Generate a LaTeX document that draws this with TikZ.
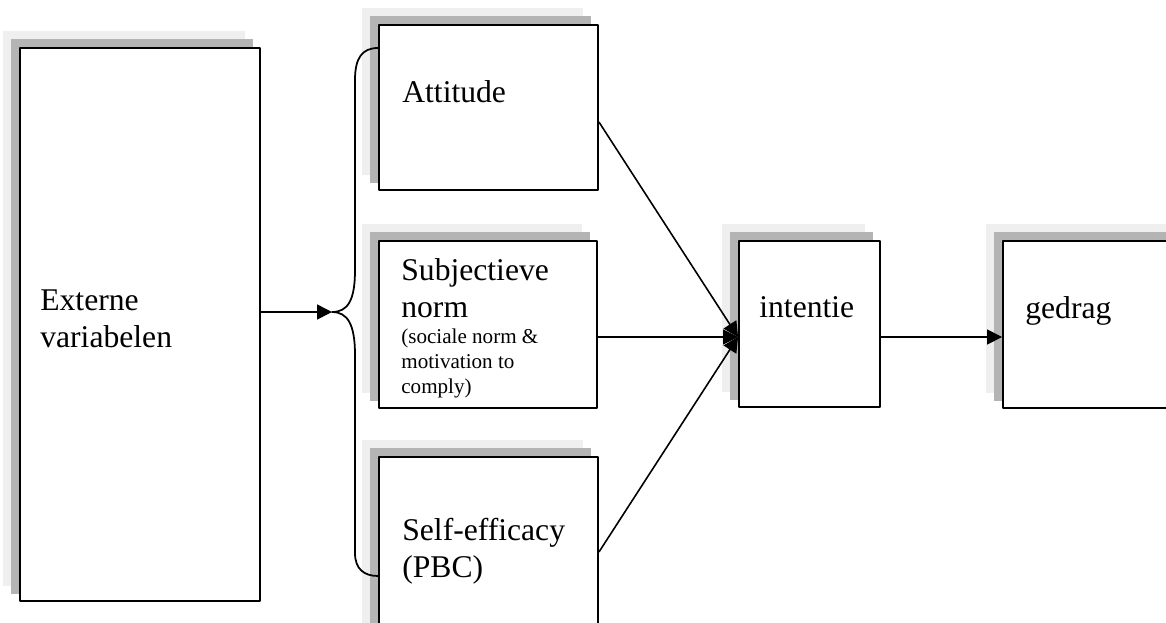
\documentclass[tikz,border=0pt]{standalone}
\usepackage{fontspec}
\setmainfont{Liberation Serif}
\usetikzlibrary{arrows.meta,backgrounds}
\definecolor{shlight}{HTML}{EFEFEF}
\definecolor{shdark}{HTML}{B4B4B4}
\begin{document}
\begin{tikzpicture}[x=0.02cm,y=-0.02cm, line join=round,
 box/.style={draw,fill=white,line width=1.1pt,inner sep=0pt},
 lbl/.style={anchor=base west,align=left,inner sep=0pt,font=\fontsize{18}{20.5}\selectfont},
 small/.style={anchor=base west,align=left,inner sep=0pt,font=\fontsize{12}{14.2}\selectfont},
 conn/.style={line width=0.9pt,-{Triangle[length=0.3cm,width=0.3cm]}}]
 \useasboundingbox (0,0) rectangle (1166,622);
 % boxes
 \node[box,minimum width=4.8cm,minimum height=11.06cm] (ext) at (140,324.5) {};
 \node[box,minimum width=4.38cm,minimum height=3.3cm] (att) at (488.5,107.5) {};
 \node[box,minimum width=4.36cm,minimum height=3.34cm] (subj) at (488,324.5) {};
 \node[box,minimum width=4.38cm,minimum height=3.86cm] (se) at (488.5,553.5) {};
 \node[box,minimum width=2.82cm,minimum height=3.32cm] (int) at (809.5,324) {};
 \node[box,minimum width=3.74cm,minimum height=3.34cm] (ged) at (1096.5,324.5) {};
 \begin{scope}[on background layer]
 \foreach \n in {ext,att,subj,se,int,ged}{
  \fill[shlight] ([shift={(-16,-16)}]\n.north west) rectangle ([shift={(-16,-16)}]\n.south east);
  \fill[shdark] ([shift={(-8,-8)}]\n.north west) rectangle ([shift={(-8,-8)}]\n.south east);
 }
 \end{scope}
 % texts (base = last line)
 \node[lbl] (ext-t) at (40,347) {Externe\\variabelen};
 \node[lbl] (att-t) at (402,102) {Attitude};
 \node[lbl] (subj-t) at (401,317) {Subjectieve\\norm};
 \node[small] (subj-s) at (401,393) {(sociale norm \&\\motivation to\\comply)};
 \node[lbl] (se-t) at (402,577) {Self-efficacy\\(PBC)};
 \node[lbl] (int-t) at (759,317) {intentie};
 \node[lbl] (ged-t) at (1025,318) {gedrag};
 % brace and arrows
 \coordinate (fork) at (332,312);
 \coordinate (intin) at ([yshift=-0.26cm]int.west);
 \draw[conn] (ext.east |- fork) -- (fork);
 \draw[line width=1pt] ([yshift=1.19cm]att.west) .. controls +(-16,0) and +(0,-22) .. (355,80) -- (355,270)
  .. controls +(0,30) and +(16,0) .. (fork) .. controls +(16,0) and +(0,-30) .. (355,355) -- (355,553)
  .. controls +(0,16) and +(-14,0) .. ([yshift=-0.45cm]se.west);
 \draw[conn] ([yshift=-0.29cm]att.east) -- (intin);
 \draw[conn] (subj.east |- intin) -- (intin);
 \draw[conn] ([yshift=0.03cm]se.east) -- (intin);
 \draw[conn] (int.east |- intin) -- (ged.west |- intin);
\end{tikzpicture}
\end{document}
